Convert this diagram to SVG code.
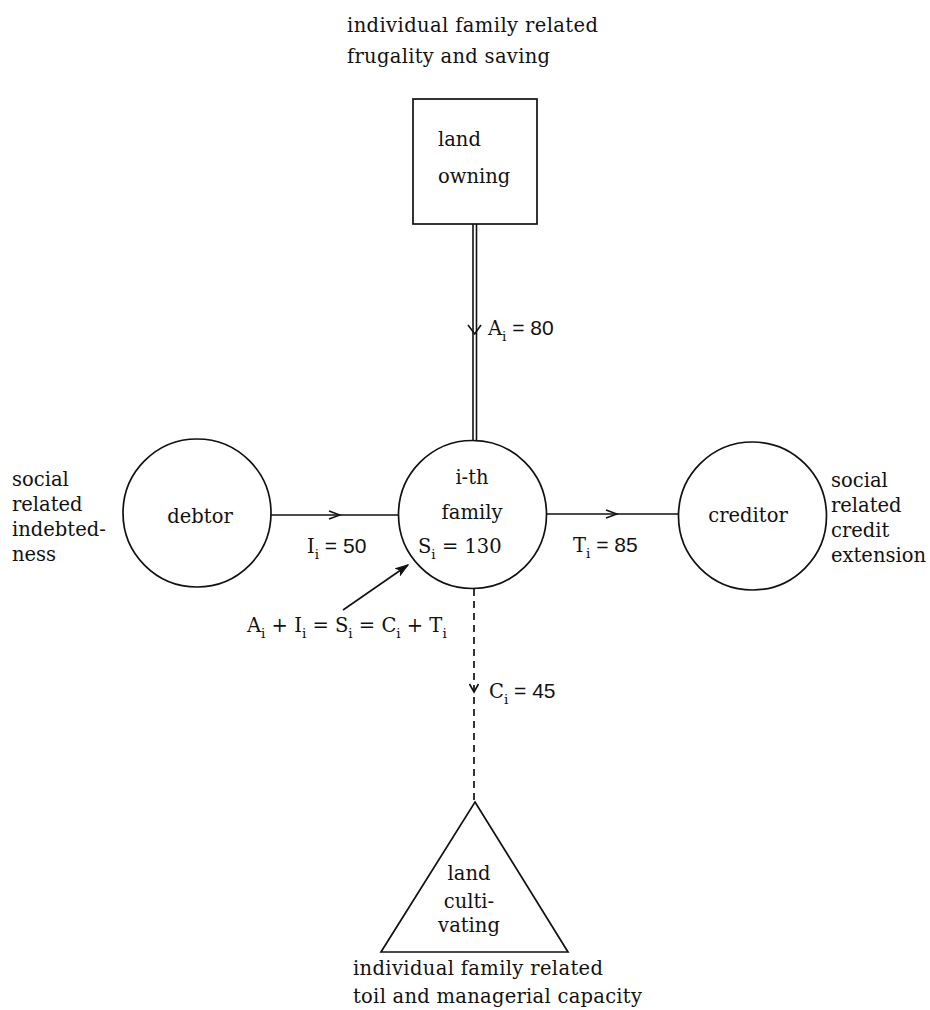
<svg xmlns="http://www.w3.org/2000/svg" width="930" height="1010" viewBox="0 0 930 1010">
<style>
.t{font-family:"DejaVu Serif","Liberation Serif",serif;font-size:19.5px;fill:#111}
.s{font-family:"Liberation Sans",Arial,sans-serif;font-size:21px;fill:#111}
.sub{font-size:13.5px}
.shape{fill:none;stroke:#111;stroke-width:1.7}
.ln{fill:none;stroke:#111;stroke-width:1.6}
.dash{fill:none;stroke:#111;stroke-width:1.7;stroke-dasharray:7 5}
</style>
<defs>
<marker id="chev" viewBox="0 0 14 10" refX="12" refY="5" markerWidth="14" markerHeight="10" markerUnits="userSpaceOnUse" orient="auto">
<path d="M1,1 L12,5 L1,9" fill="none" stroke="#111" stroke-width="1.6"/>
</marker>
<marker id="head" viewBox="0 0 14 10" refX="13" refY="5" markerWidth="14" markerHeight="10" markerUnits="userSpaceOnUse" orient="auto">
<path d="M1,1 L13,5 L1,9 L4,5 Z" fill="#111" stroke="#111" stroke-width="1"/>
</marker>
</defs>
<rect width="930" height="1010" fill="#ffffff"/>

<g id="connectors">
<line class="ln" x1="473" y1="224" x2="473" y2="441"/>
<line class="ln" x1="476.5" y1="224" x2="476.5" y2="441"/>
<path d="M468,325 L474.75,334 L481,325" fill="none" stroke="#111" stroke-width="1.6"/>
<path class="ln" d="M271,515 L340,515 L398,515" marker-mid="url(#chev)"/>
<path class="ln" d="M547,514 L617,514 L679,514" marker-mid="url(#chev)"/>
<line class="dash" x1="474" y1="589" x2="474" y2="802"/>
<path d="M469.5,684 L474,692 L478.5,684" fill="none" stroke="#111" stroke-width="1.6"/>
<line class="ln" x1="343" y1="610" x2="408" y2="565" marker-end="url(#head)"/>
</g>

<g id="land-owning">
<rect class="shape" x="413" y="99" width="124" height="125"/>
<text class="t" x="438" y="146">land</text>
<text class="t" x="438" y="183">owning</text>
</g>
<g id="land-owning-caption">
<text class="t" x="347" y="32" textLength="251" lengthAdjust="spacing">individual family related</text>
<text class="t" x="347" y="63" textLength="203" lengthAdjust="spacing">frugality and saving</text>
</g>

<g id="family">
<circle class="shape" cx="472.5" cy="514.5" r="74"/>
<text class="t" x="472" y="484" text-anchor="middle">i-th</text>
<text class="t" x="472" y="519" text-anchor="middle">family</text>
<text class="t" x="418" y="553">S<tspan class="sub" dy="6">i</tspan><tspan dy="-6"> = 130</tspan></text>
</g>

<g id="debtor">
<circle class="shape" cx="197" cy="513" r="74"/>
<text class="t" x="200" y="523" text-anchor="middle">debtor</text>
</g>
<g id="debtor-caption">
<text class="t" x="12" y="486">social</text>
<text class="t" x="12" y="511">related</text>
<text class="t" x="12" y="536">indebted-</text>
<text class="t" x="12" y="561">ness</text>
</g>

<g id="creditor">
<circle class="shape" cx="752.5" cy="516" r="74"/>
<text class="t" x="748" y="522" text-anchor="middle">creditor</text>
</g>
<g id="creditor-caption">
<text class="t" x="831" y="487">social</text>
<text class="t" x="831" y="512">related</text>
<text class="t" x="831" y="537">credit</text>
<text class="t" x="831" y="562">extension</text>
</g>

<g id="land-cultivating">
<polygon class="shape" points="475,802 568,952 381,952"/>
<text class="t" x="469" y="880" text-anchor="middle">land</text>
<text class="t" x="469" y="908" text-anchor="middle">culti-</text>
<text class="t" x="469" y="932" text-anchor="middle">vating</text>
</g>
<g id="land-cultivating-caption">
<text class="t" x="353" y="975" textLength="250" lengthAdjust="spacing">individual family related</text>
<text class="t" x="353" y="1003" textLength="289" lengthAdjust="spacing">toil and managerial capacity</text>
</g>

<g id="labels">
<text class="t" x="488" y="335">A<tspan class="sub" dy="6">i</tspan><tspan class="s" dy="-6"> = 80</tspan></text>
<text class="t" x="307" y="553">I<tspan class="sub" dy="6">i</tspan><tspan class="s" dy="-6"> = 50</tspan></text>
<text class="t" x="573" y="552">T<tspan class="sub" dy="6">i</tspan><tspan class="s" dy="-6"> = 85</tspan></text>
<text class="t" x="489" y="698">C<tspan class="sub" dy="6">i</tspan><tspan class="s" dy="-6"> = 45</tspan></text>
<text class="t" x="247" y="632">A<tspan class="sub" dy="6">i</tspan><tspan dy="-6"> + I</tspan><tspan class="sub" dy="6">i</tspan><tspan dy="-6"> =  S</tspan><tspan class="sub" dy="6">i</tspan><tspan dy="-6"> = C</tspan><tspan class="sub" dy="6">i</tspan><tspan dy="-6"> + T</tspan><tspan class="sub" dy="6">i</tspan></text>
</g>
</svg>
